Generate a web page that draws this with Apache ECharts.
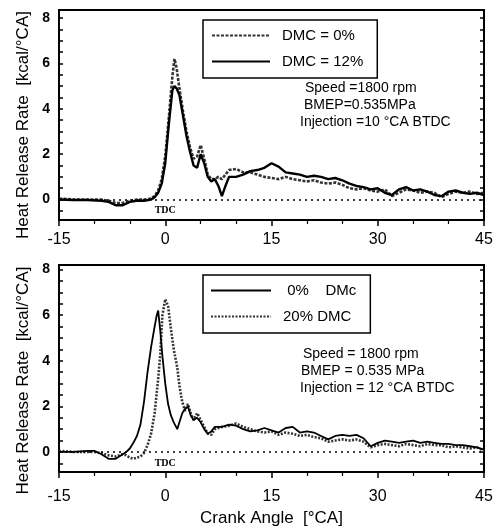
<!DOCTYPE html>
<html>
<head>
<meta charset="utf-8">
<script src="https://cdn.jsdelivr.net/npm/echarts@6/dist/echarts.min.js"></script>
<style>html,body{margin:0;padding:0;background:#fff;}#c{width:498px;height:529px;}</style>
</head>
<body>
<div id="c"></div>
<script>
// ---------- data ----------
const xTop = [-15,-13,-11,-9,-8,-7,-6,-5,-4,-3,-2,-1.5,-1,-0.5,0,0.5,1,1.3,1.6,2,2.5,3,3.5,4,4.5,5,5.5,6,6.5,7,7.5,8,8.5,9,10,11,12,13,14,15,16,17,18,19,20,21,22,23,24,25,26,27,28,29,30,31,32,33,34,35,36,37,38,39,40,41,42,43,44,45];
const top0 = [0.05,0,0,0,-0.05,-0.15,-0.15,-0.05,0,0,0.05,0.15,0.4,0.9,1.9,3.6,5.4,6.2,5.8,4.9,3.9,3.0,2.3,1.8,1.9,2.4,1.8,1.1,0.9,0.9,1.0,0.9,1.1,1.3,1.35,1.2,1.2,1.1,1.0,0.95,0.9,1.0,0.9,0.85,0.8,0.85,0.75,0.7,0.75,0.65,0.5,0.45,0.5,0.4,0.35,0.45,0.15,0.3,0.45,0.4,0.3,0.35,0.3,0.1,0.25,0.35,0.3,0.35,0.25,0.3];
const top12 = [0,-0.02,-0.02,-0.05,-0.1,-0.25,-0.25,-0.1,-0.05,-0.05,0,0.1,0.3,0.7,1.6,3.3,4.8,5.0,4.9,4.6,3.7,2.8,2.1,1.5,1.4,2.0,1.6,1.0,0.8,0.9,0.6,0.15,0.6,1.0,1.0,1.1,1.25,1.3,1.4,1.6,1.45,1.2,1.15,1.1,1.0,1.05,1.0,0.9,0.95,0.85,0.7,0.6,0.55,0.45,0.5,0.3,0.2,0.45,0.55,0.4,0.45,0.35,0.2,0.15,0.35,0.4,0.3,0.25,0.3,0.2];

const xBot = [-15,-13,-11,-10,-9,-8,-7,-6,-5.5,-5,-4.5,-4,-3.5,-3,-2.5,-2,-1.5,-1.2,-1,-0.7,-0.4,0,0.4,0.8,1.2,1.7,2,2.4,2.8,3.2,3.6,4,4.5,5,5.5,6,6.5,7,8,9,10,11,12,13,14,15,16,17,18,19,20,21,22,23,24,25,26,27,28,29,30,31,32,33,34,35,36,37,38,39,40,41,42,43,44,45];
const bot0 = [0,0,0.05,0.05,-0.1,-0.3,-0.3,-0.1,0,0.15,0.4,0.7,1.2,2.2,3.5,4.6,5.5,6.0,6.2,5.3,4.2,3.0,2.1,1.6,1.3,1.0,1.3,1.7,1.9,2.0,1.6,1.4,1.5,1.3,1.0,0.8,0.9,1.1,1.1,1.2,1.15,1.0,0.9,0.95,1.05,0.95,0.85,1.05,1.1,0.85,0.9,0.85,0.7,0.55,0.7,0.75,0.7,0.75,0.6,0.25,0.4,0.5,0.45,0.4,0.45,0.5,0.4,0.45,0.4,0.35,0.35,0.3,0.3,0.25,0.2,0.1];
const bot20 = [0.05,0,0,0,-0.05,-0.15,-0.2,-0.1,-0.15,-0.25,-0.3,-0.25,-0.2,-0.05,0.3,0.8,1.7,2.6,3.2,4.3,6.0,6.7,6.4,5.4,4.5,3.7,2.9,2.2,1.8,2.1,1.7,1.4,1.7,1.4,1.1,0.8,0.75,1.0,1.1,1.15,1.25,1.1,1.0,0.9,0.85,0.9,0.75,0.85,0.8,0.7,0.75,0.65,0.6,0.45,0.5,0.55,0.5,0.55,0.45,0.2,0.3,0.35,0.3,0.25,0.35,0.3,0.25,0.35,0.3,0.3,0.2,0.25,0.2,0.15,0.2,0.05];

const xTicks = [-15,0,15,30,45];
const yTickLabels = [0,2,4,6,8];
const yTickMarks = [-0.5,0,0.5,1,1.5,2,2.5,3,3.5,4,4.5,5,5.5,6,6.5,7,7.5,8];
const namesTop = ['DMC = 0%','DMC = 12%'];
const namesBot = [' 0%    DMc','20% DMC'];
const notesTop = ['Speed =1800 rpm','BMEP=0.535MPa','Injection =10 °CA BTDC'];
const notesBot = ['Speed = 1800 rpm','BMEP = 0.535 MPa','Injection = 12 °CA BTDC'];

// ---------- chart ----------
const FONT = '"Liberation Sans", Arial, sans-serif';
const pairs = (xs, ys) => xs.map((x, i) => [x, ys[i]]);

function xAxisDef(gridIndex, margin, withName) {
  return {
    type: 'value', gridIndex, min: -15, max: 45, interval: 15, position: 'bottom',
    axisLine: { show: true, onZero: false, lineStyle: { color: '#000', width: 2 } },
    axisTick: { show: true, inside: false, length: 6, lineStyle: { color: '#000', width: 1.5 } },
    minorTick: { show: true, splitNumber: 3, length: 4, lineStyle: { color: '#000', width: 1.2 } },
    axisLabel: { show: true, margin, color: '#000', fontSize: 16, fontFamily: FONT },
    splitLine: { show: false },
    name: withName ? 'Crank Angle  [°CA]' : '',
    nameLocation: 'middle', nameGap: 38,
    nameTextStyle: { color: '#000', fontSize: 17, fontFamily: FONT }
  };
}
function yAxisDef(gridIndex, min, max, left, padRight) {
  return {
    type: 'value', gridIndex, min, max, position: left ? 'left' : 'right',
    axisLine: { show: true, onZero: false, lineStyle: { color: '#000', width: 2 } },
    axisTick: { show: true, inside: true, length: 4, customValues: yTickMarks, lineStyle: { color: '#000', width: 1.5 } },
    axisLabel: { show: left, customValues: yTickLabels, margin: 9, color: '#000', fontSize: 14, fontWeight: 'bold', fontFamily: FONT },
    splitLine: { show: false },
    name: left ? 'Heat Release Rate  [kcal/°CA]' : '',
    nameLocation: 'middle', nameGap: 24,
    nameTextStyle: { color: '#000', fontSize: 17, fontFamily: FONT, padding: [0, padRight, 0, 0] }
  };
}
function zeroMark() {
  return {
    silent: true, symbol: ['none', 'none'],
    label: { show: false },
    lineStyle: { color: '#000', type: [2, 4], width: 1.5 },
    data: [{ yAxis: 0 }]
  };
}
function tdcMark() {
  return {
    silent: true, symbol: 'circle', symbolSize: 1,
    itemStyle: { color: 'rgba(0,0,0,0)' },
    label: { show: true, position: 'inside', formatter: 'TDC', color: '#000', fontSize: 10, fontFamily: '"Liberation Serif", serif', fontWeight: 'bold' },
    data: [{ coord: [0, -0.5] }]
  };
}
function noteText(lines, lefts, tops) {
  return lines.map((t, i) => ({
    type: 'text', left: lefts[i], top: tops[i],
    style: { text: t, fill: '#000', font: '14px ' + FONT }
  }));
}
function legendDef(names, top, itemWidth, padLeft) {
  return {
    data: names, orient: 'vertical', left: 203, top,
    itemWidth, itemHeight: 14, itemGap: 11,
    padding: [8, 14, 9, padLeft],
    borderColor: '#000', borderWidth: 1.5,
    itemStyle: { opacity: 0, color: 'rgba(0,0,0,0)', borderWidth: 0 },
    textStyle: { color: '#000', fontSize: 15, fontFamily: FONT, padding: [0, 0, 0, 7] },
    selectedMode: false
  };
}

const option = {
  backgroundColor: '#fff',
  animation: false,
  grid: [
    { left: 59, right: 14, top: 10, height: 210, show: true, borderColor: '#000', borderWidth: 2, backgroundColor: 'transparent' },
    { left: 59, right: 14, top: 265, height: 207, show: true, borderColor: '#000', borderWidth: 2, backgroundColor: 'transparent' }
  ],
  xAxis: [ xAxisDef(0, 12, false), xAxisDef(1, 17, true) ],
  yAxis: [
    yAxisDef(0, -0.9, 8.35, true, 20),
    yAxisDef(0, -0.9, 8.35, false, 0),
    yAxisDef(1, -0.88, 8.2, true, 24),
    yAxisDef(1, -0.88, 8.2, false, 0)
  ],
  legend: [ legendDef(namesTop, 20, 58, 8), legendDef(namesBot, 275, 60, 7) ],
  graphic: [
    ...noteText(notesTop, [305, 304, 300], [81, 98, 115]),
    ...noteText(notesBot, [303, 301, 300], [347, 364, 381])
  ],
  series: [
    {
      name: namesTop[0], type: 'line', xAxisIndex: 0, yAxisIndex: 0, symbol: 'none',
      data: pairs(xTop, top0), z: 3,
      lineStyle: { color: '#333', width: 2.6, type: [3, 1.5] },
      itemStyle: { color: '#333' },
      markLine: zeroMark(), markPoint: tdcMark()
    },
    {
      name: namesTop[1], type: 'line', xAxisIndex: 0, yAxisIndex: 0, symbol: 'none',
      data: pairs(xTop, top12), z: 4,
      lineStyle: { color: '#000', width: 2.4 },
      itemStyle: { color: '#000' }
    },
    {
      name: namesBot[0], type: 'line', xAxisIndex: 1, yAxisIndex: 2, symbol: 'none',
      data: pairs(xBot, bot0), z: 4,
      lineStyle: { color: '#000', width: 1.8 },
      itemStyle: { color: '#000' },
      markLine: zeroMark(), markPoint: tdcMark()
    },
    {
      name: namesBot[1], type: 'line', xAxisIndex: 1, yAxisIndex: 2, symbol: 'none',
      data: pairs(xBot, bot20), z: 3,
      lineStyle: { color: '#333', width: 2.6, type: [2, 1.5] },
      itemStyle: { color: '#333' }
    }
  ]
};

const chart = echarts.init(document.getElementById('c'), null, { renderer: 'canvas' });
chart.setOption(option);
</script>
</body>
</html>
